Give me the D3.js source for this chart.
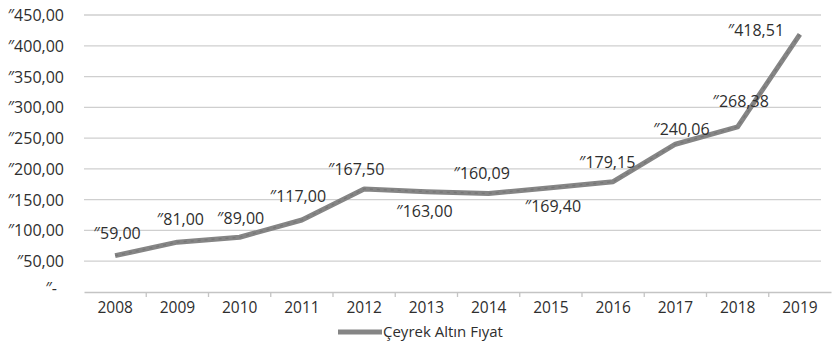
<!DOCTYPE html>
<html>
<head>
<meta charset="utf-8">
<script src="https://cdn.jsdelivr.net/npm/d3@7"></script>
<style>
  html, body { margin: 0; padding: 0; background: #fff; }
  svg text { font-family: "Open Sans", "Noto Sans", sans-serif; fill: #2e2e2e; }
</style>
</head>
<body>
<svg id="chart" width="833" height="347"></svg>
<script>
const years = ["2008","2009","2010","2011","2012","2013","2014","2015","2016","2017","2018","2019"];
const prices = [59.00, 81.00, 89.00, 117.00, 167.50, 163.00, 160.09, 169.40, 179.15, 240.06, 268.38, 418.51];
const yTicks = [0, 50, 100, 150, 200, 250, 300, 350, 400, 450];
const seriesName = "Çeyrek Altın Fıyat";
// label placement relative to each point (layout only)
const labelOffsets = [[2,-23],[3,-23],[1,-19],[-4,-24],[-8,-20],[-2,19],[-7,-20],[2,18],[-6,-20],[6,-15],[3,-26],[-44,-4]];

const W = 833, H = 347;
const m = { left: 84, right: 2, top: 15, bottom: 55 };
const svg = d3.select("#chart");

const x = d3.scaleBand().domain(years).range([m.left, W - m.right]);
const y = d3.scaleLinear().domain([0, 450]).range([H - m.bottom, m.top]);

const fmt = v => v === 0 ? "″-" : "″" + d3.format(".2f")(v).replace(".", ",");

// gridlines
svg.append("g")
  .selectAll("line").data(yTicks.filter(d => d > 0)).join("line")
  .attr("x1", m.left).attr("x2", W - 12)
  .attr("y1", d => y(d)).attr("y2", d => y(d))
  .attr("stroke", "#cfcfcf").attr("stroke-width", 1.3);

// y labels
svg.append("g")
  .selectAll("text").data(yTicks).join("text")
  .attr("x", d => d === 0 ? 57 : 64)
  .attr("y", d => y(d) + (d === 0 ? 2 : 6))
  .attr("text-anchor", "end")
  .attr("font-size", 16)
  .text(fmt);

// x axis
const xAxis = d3.axisBottom(x).tickSize(0).tickPadding(10);
const gx = svg.append("g").attr("transform", `translate(0,${y(0)})`).call(xAxis);
gx.select(".domain").attr("stroke", "#c4c4c4").attr("stroke-width", 1.3);
gx.selectAll("text").attr("font-size", 15.5).attr("fill", "#2e2e2e")
  .style("font-family", '"Open Sans", sans-serif');
// band boundary ticks
gx.append("g").selectAll("line").data(years.slice(1)).join("line")
  .attr("x1", d => x(d)).attr("x2", d => x(d))
  .attr("y1", 0).attr("y2", 5)
  .attr("stroke", "#c4c4c4").attr("stroke-width", 1.3);

// line
const line = d3.line()
  .x((d, i) => x(years[i]) + x.bandwidth() / 2)
  .y(d => y(d));
svg.append("path").datum(prices)
  .attr("d", line)
  .attr("fill", "none")
  .attr("stroke", "#858585")
  .attr("stroke-width", 5)
  .attr("stroke-linejoin", "round");
svg.append("path").datum(prices)
  .attr("d", line)
  .attr("fill", "none")
  .attr("stroke", "#666")
  .attr("stroke-width", 1.2)
  .attr("stroke-dasharray", "3,4")
  .attr("opacity", 0.5);

// data labels
svg.append("g")
  .selectAll("text").data(prices).join("text")
  .attr("x", (d, i) => x(years[i]) + x.bandwidth() / 2 + labelOffsets[i][0])
  .attr("y", (d, i) => y(d) + labelOffsets[i][1] + 6)
  .attr("text-anchor", "middle")
  .attr("font-size", 16)
  .text(fmt);

// legend
const lg = svg.append("g").attr("transform", "translate(338,332)");
lg.append("line").attr("x1", 0).attr("x2", 44).attr("y1", 0).attr("y2", 0)
  .attr("stroke", "#858585").attr("stroke-width", 5);
lg.append("text").attr("x", 45).attr("y", 5).attr("font-size", 15).text(seriesName);
</script>
</body>
</html>
